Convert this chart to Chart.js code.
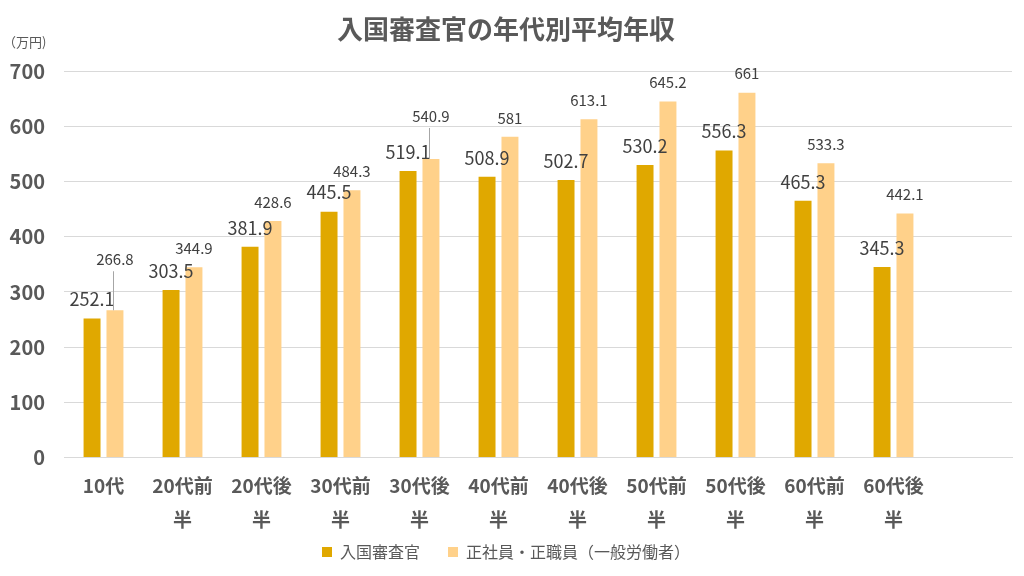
<!DOCTYPE html>
<html lang="ja">
<head>
<meta charset="utf-8">
<title>入国審査官の年代別平均年収</title>
<script src="https://cdn.jsdelivr.net/npm/chart.js@4.4.1/dist/chart.umd.min.js"></script>
<style>
  html, body { margin: 0; padding: 0; background: #fff; }
  #wrap { width: 1024px; height: 576px; position: relative; }
</style>
</head>
<body>
<div id="wrap"><canvas id="myChart"></canvas></div>
<script>
// データ
const categories = [['10代'], ['20代前', '半'], ['20代後', '半'], ['30代前', '半'], ['30代後', '半'],
  ['40代前', '半'], ['40代後', '半'], ['50代前', '半'], ['50代後', '半'], ['60代前', '半'], ['60代後', '半'], ''];
const seriesNames = ['入国審査官', '正社員・正職員（一般労働者）'];
const inspectorValues = [252.1, 303.5, 381.9, 445.5, 519.1, 508.9, 502.7, 530.2, 556.3, 465.3, 345.3];
const employeeValues = [266.8, 344.9, 428.6, 484.3, 540.9, 581, 613.1, 645.2, 661, 533.3, 442.1];
const yTicks = [0, 100, 200, 300, 400, 500, 600, 700];

const FONT = '"Noto Sans CJK JP", "Noto Sans", sans-serif';
const TEXT = '#595959';

// ラベルを持ち上げて引き出し線を付けるもの（dataset-index: 高さ）
const leaderLifts = { '1-0': 51, '1-4': 43 };
const LEGEND_TRIM = 24;

const valueLabels = {
  id: 'valueLabels',
  beforeLayout(chart) {
    // 凡例の項目間隔は広いまま、縦の余白だけ詰める
    const lg = chart.legend;
    if (lg && !lg._trimmed) {
      const fit = lg.fit;
      lg.fit = function() { fit.call(this); this.height -= LEGEND_TRIM; };
      lg._trimmed = true;
    }
  },
  afterLayout(chart) {
    const lg = chart.legend;
    if (lg) {
      lg.top -= LEGEND_TRIM;
      lg.height += LEGEND_TRIM;
    }
  },
  afterDatasetsDraw(chart) {
    const ctx = chart.ctx;
    ctx.save();
    ctx.textAlign = 'center';
    ctx.textBaseline = 'middle';
    chart.data.datasets.forEach((ds, di) => {
      const meta = chart.getDatasetMeta(di);
      meta.data.forEach((bar, i) => {
        const v = ds.data[i];
        if (v == null) return;
        const lift = leaderLifts[di + '-' + i];
        let y = bar.y - 19;
        if (lift) {
          y = bar.y - lift;
          ctx.strokeStyle = '#a6a6a6';
          ctx.lineWidth = 1;
          ctx.beginPath();
          ctx.moveTo(Math.round(bar.x) - 1.5, y + 12);
          ctx.lineTo(Math.round(bar.x) - 1.5, bar.y);
          ctx.stroke();
        }
        ctx.fillStyle = '#404040';
        ctx.font = di === 0 ? '18px ' + FONT : '15px ' + FONT;
        ctx.fillText(String(v), bar.x, y);
      });
    });
    // 単位
    ctx.fillStyle = TEXT;
    ctx.textAlign = 'left';
    ctx.font = '13px ' + FONT;
    ctx.fillText('（万円)', 3, 42);
    ctx.restore();
  }
};

const ctx = document.getElementById('myChart').getContext('2d');
const myChart = new Chart(ctx, {
  type: 'bar',
  data: {
    labels: categories,
    datasets: [
      {
        label: seriesNames[0],
        data: inspectorValues,
        backgroundColor: '#E0A800',
        barPercentage: 0.74,
        categoryPercentage: 0.58
      },
      {
        label: seriesNames[1],
        data: employeeValues,
        backgroundColor: '#FFD18A',
        barPercentage: 0.74,
        categoryPercentage: 0.58
      }
    ]
  },
  options: {
    responsive: true,
    maintainAspectRatio: false,
    animation: false,
    layout: { padding: { left: 0, right: 12, bottom: 6 } },
    plugins: {
      title: {
        display: true,
        text: '入国審査官の年代別平均年収',
        color: TEXT,
        font: { family: FONT, size: 26, weight: 'bold' },
        padding: { top: 14, bottom: 26 }
      },
      legend: {
        position: 'bottom',
        labels: {
          color: TEXT,
          font: { family: FONT, size: 16 },
          boxWidth: 10,
          boxHeight: 10,
          padding: 28
        }
      },
      tooltip: { enabled: false }
    },
    scales: {
      x: {
        grid: { display: false },
        border: { color: '#d9d9d9' },
        ticks: {
          color: TEXT,
          font: { family: FONT, size: 19, weight: 'bold', lineHeight: 1.75 },
          maxRotation: 0,
          autoSkip: false,
          padding: 4
        }
      },
      y: {
        min: 0,
        max: 700,
        afterBuildTicks(scale) {
          scale.ticks = yTicks.map(v => ({ value: v }));
        },
        afterFit(scale) {
          scale.width = 64;
        },
        grid: { color: '#d9d9d9', drawTicks: false },
        border: { display: false },
        ticks: {
          color: TEXT,
          font: { family: FONT, size: 20, weight: 'bold' },
          padding: 19
        }
      }
    }
  },
  plugins: [valueLabels]
});
</script>
</body>
</html>
